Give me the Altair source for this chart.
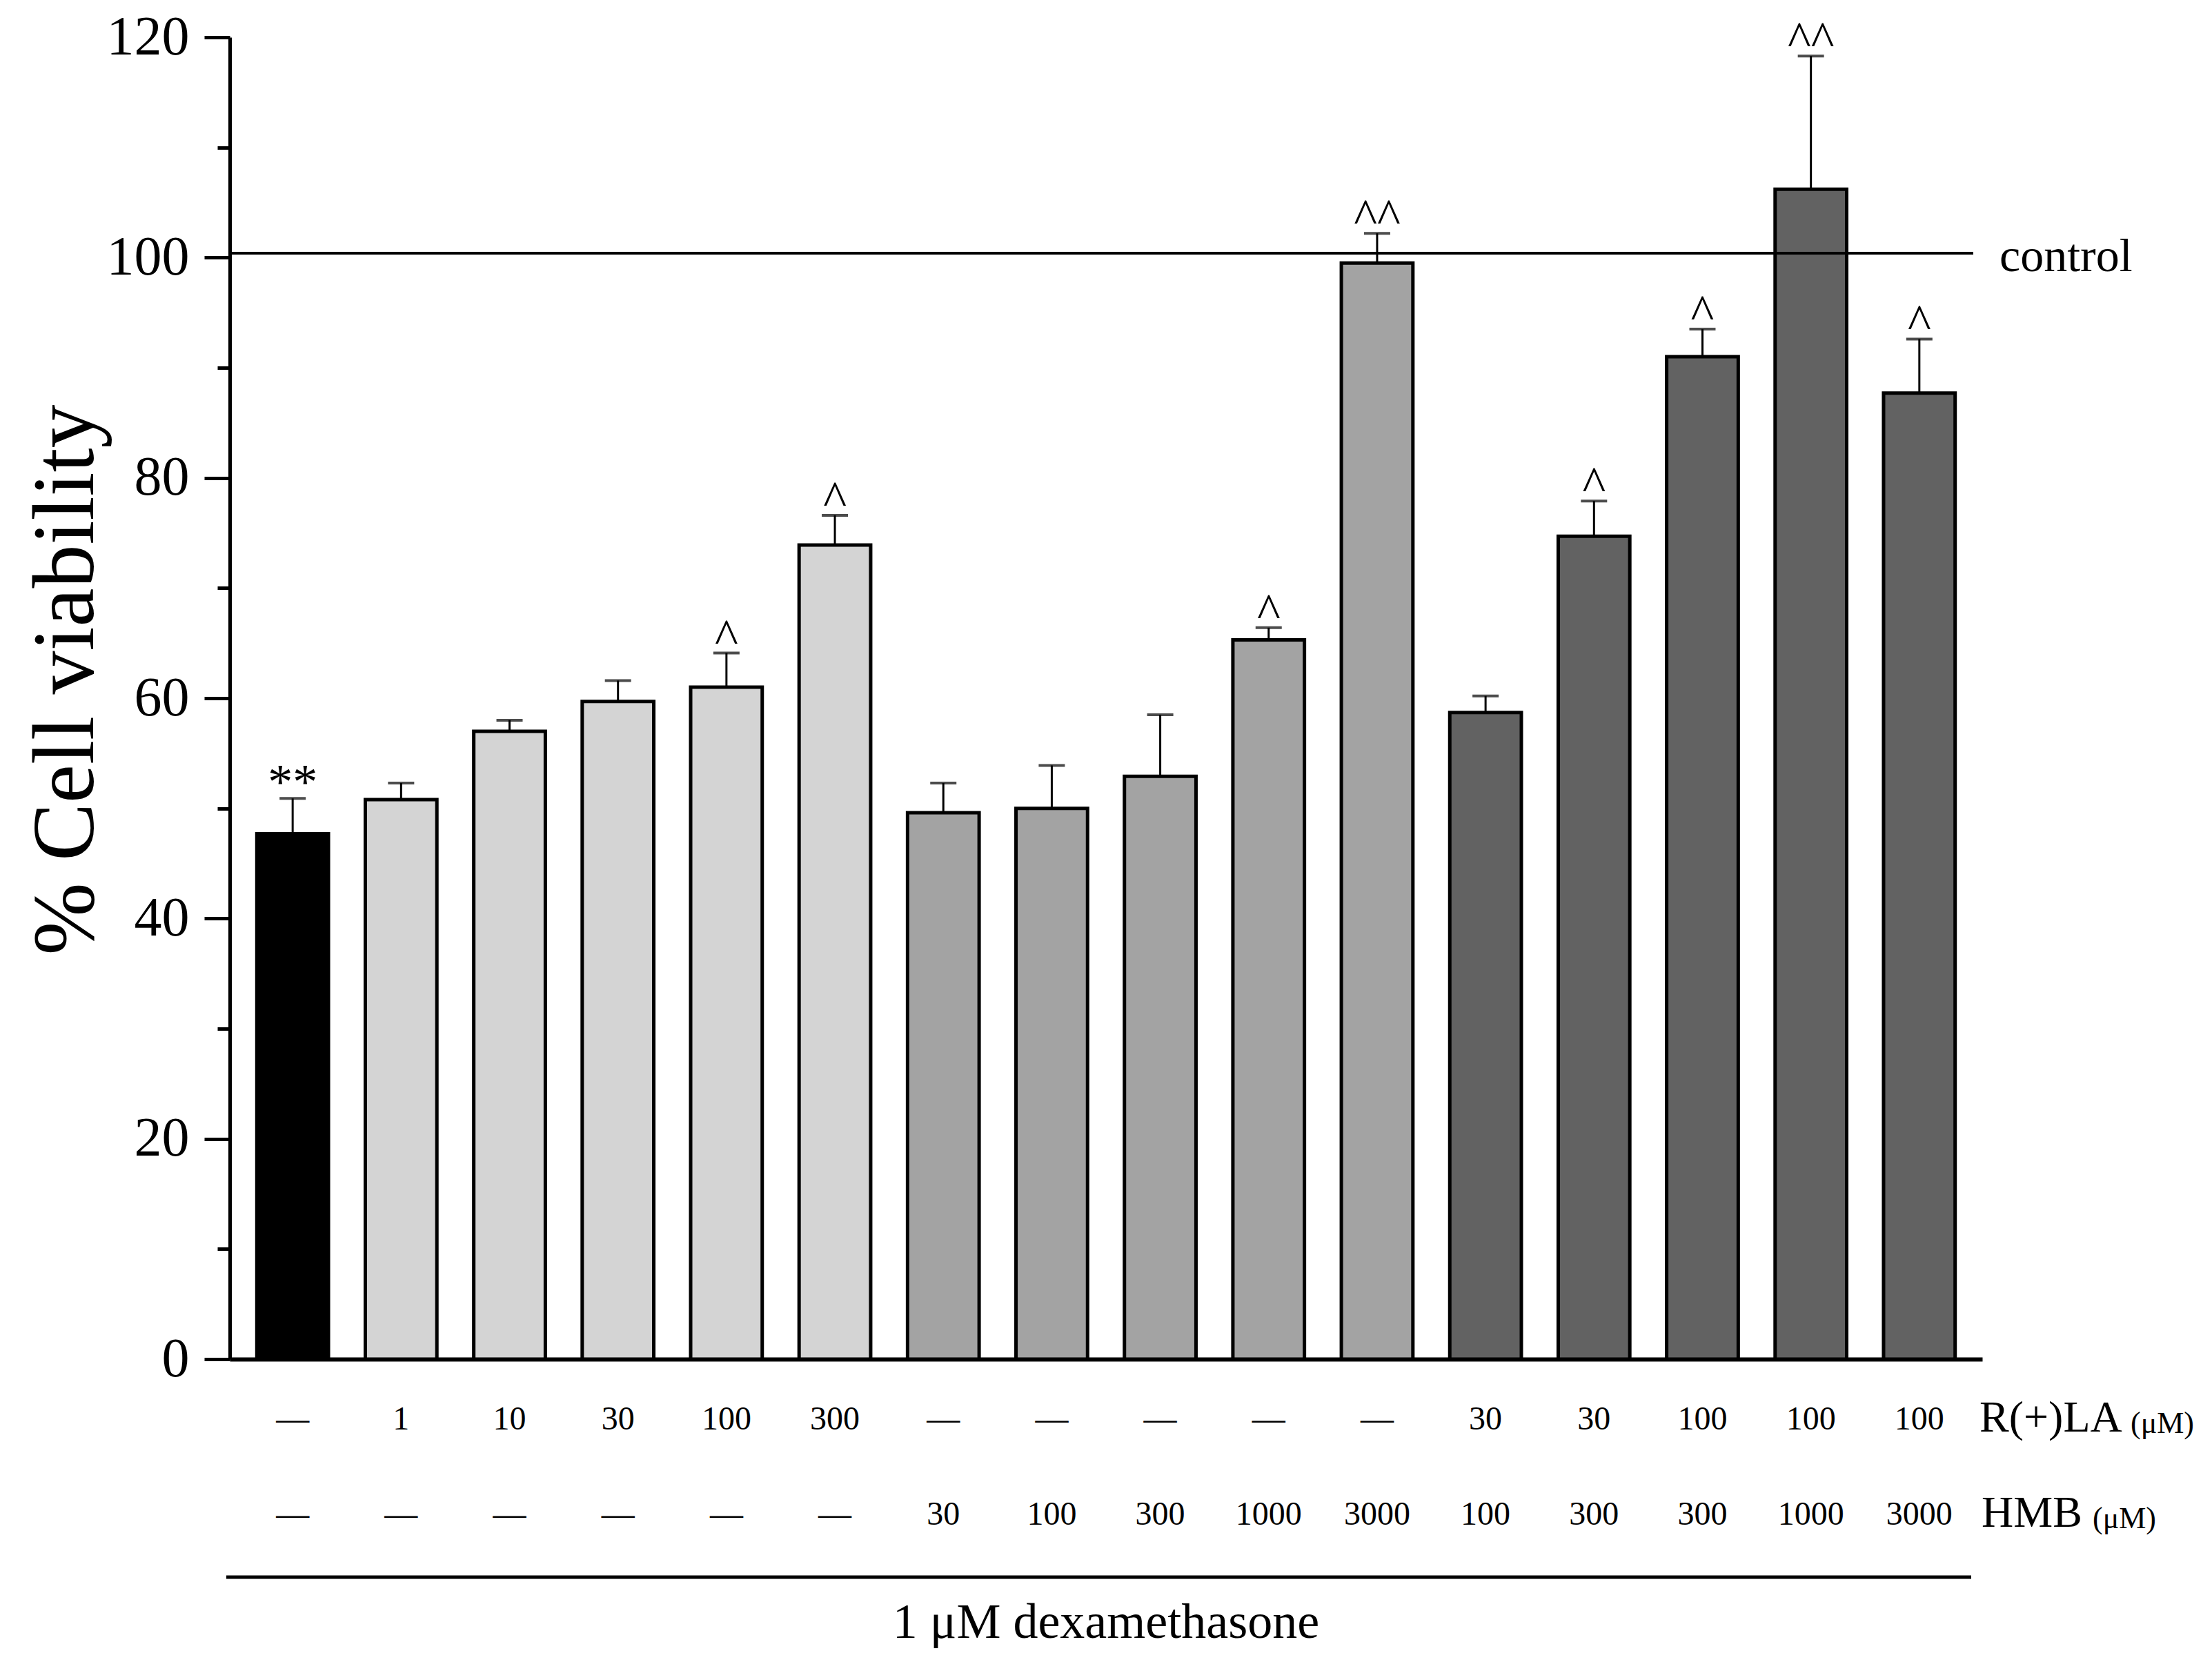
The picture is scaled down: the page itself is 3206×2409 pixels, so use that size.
import altair as alt
import pandas as pd

# ---- data ----
idx = [str(i) for i in range(16)]
group = ["dex"] + ["la"] * 5 + ["hmb"] * 5 + ["combo"] * 5
means = [47.7, 50.8, 57.0, 59.7, 61.0, 73.9, 49.6, 50.0, 52.9, 65.3, 99.5, 58.7, 74.7, 91.0, 106.2, 87.7]
uppers = [50.9, 52.3, 58.0, 61.6, 64.1, 76.6, 52.3, 53.9, 58.5, 66.4, 102.2, 60.2, 77.9, 93.5, 118.3, 92.6]
sig = ["**", "", "", "", "^", "^", "", "", "", "^", "^^", "", "^", "^", "^^", "^"]
la_labels = ["—", "1", "10", "30", "100", "300", "—", "—", "—", "—", "—", "30", "30", "100", "100", "100"]
hmb_labels = ["—", "—", "—", "—", "—", "—", "30", "100", "300", "1000", "3000", "100", "300", "300", "1000", "3000"]
group_names = ["dex", "la", "hmb", "combo"]
group_colors = ["#000000", "#d4d4d4", "#a3a3a3", "#626262"]
y_ticks = [0, 10, 20, 30, 40, 50, 60, 70, 80, 90, 100, 110, 120]
control_value = 100.4
control_label = "control"
row_names = ["R(+)LA", "HMB"]
unit_label = "(μM)"
footer = "1 μM dexamethasone"
y_title = "% Cell viability"

df = pd.DataFrame({
    "idx": idx, "group": group, "mean": means, "upper": uppers,
    "sig": sig, "la": la_labels, "hmb": hmb_labels,
})

FONT = "Liberation Serif"
W, H = 2540, 1916

xenc = alt.X("idx:N", sort=idx, axis=alt.Axis(
    title=None, labels=False, ticks=False, grid=False, domainWidth=6, domainColor="black"),
    scale=alt.Scale(paddingInner=0.34, paddingOuter=0.25))

base = alt.Chart(df)

bars = base.mark_bar(stroke="black", strokeWidth=5).encode(
    x=xenc,
    y=alt.Y("mean:Q", scale=alt.Scale(domain=[0, 120], nice=False, zero=True),
            axis=alt.Axis(
                values=y_ticks, title=y_title, grid=False,
                labelExpr="datum.value % 20 === 0 ? datum.label : ''",
                tickSize={"condition": {"test": "datum.value % 20 === 0", "value": 37}, "value": 18},
                tickWidth=5, tickColor="black", domainWidth=5, domainColor="black",
                labelFont=FONT, labelFontSize=80, labelColor="black", labelPadding=22,
                titleFont=FONT, titleFontSize=126, titleFontWeight="normal", titleColor="black",
                titleAngle=270, titleAlign="center", titleBaseline="middle",
                titleX=-237, titleY=931,
            )),
    color=alt.Color("group:N", scale=alt.Scale(domain=group_names, range=group_colors), legend=None),
)

err = base.mark_rule(strokeWidth=3, color="black").encode(
    x=alt.X("idx:N", sort=idx), y="mean:Q", y2="upper:Q")

caps = base.mark_tick(size=38, thickness=4, color="black").encode(
    x=alt.X("idx:N", sort=idx), y="upper:Q")

stars = base.mark_text(font=FONT, fontSize=72, baseline="alphabetic", dy=0, color="black").encode(
    x=alt.X("idx:N", sort=idx), y="upper:Q", text="sig:N")

ctrl_df = pd.DataFrame({"v": [control_value], "label": [control_label]})
ctrl = alt.Chart(ctrl_df).mark_rule(strokeWidth=4, color="black").encode(
    y="v:Q", x=alt.value(0), x2=alt.value(2527))
ctrl_text = alt.Chart(ctrl_df).mark_text(font=FONT, fontSize=68, align="left", baseline="middle",
                                         dy=6, color="black").encode(
    y="v:Q", x=alt.value(2565), text="label:N")

row1 = base.mark_text(font=FONT, fontSize=48, baseline="middle", color="black").encode(
    x=alt.X("idx:N", sort=idx), y=alt.value(2004), text="la:N")
row2 = base.mark_text(font=FONT, fontSize=48, baseline="middle", color="black").encode(
    x=alt.X("idx:N", sort=idx), y=alt.value(2142), text="hmb:N")

lab_la = pd.DataFrame({"name": [row_names[0]], "unit": [unit_label]})
lab_hmb = pd.DataFrame({"name": [row_names[1]], "unit": [unit_label]})


def row_label(d, y, xn, xu):
    n = alt.Chart(d).mark_text(font=FONT, fontSize=64, align="left", baseline="middle",
                               color="black").encode(
        x=alt.value(xn), y=alt.value(y), text="name:N")
    u = alt.Chart(d).mark_text(font=FONT, fontSize=44, align="left", baseline="middle",
                               dy=8, color="black").encode(
        x=alt.value(xu), y=alt.value(y), text="unit:N")
    return [n, u]


labels = row_label(lab_la, 2002, 2536, 2755) + row_label(lab_hmb, 2140, 2539, 2700)

foot_df = pd.DataFrame({"t": [footer]})
dex_line = alt.Chart(foot_df).mark_rule(strokeWidth=5, color="black").encode(
    x=alt.value(-5), x2=alt.value(2524), y=alt.value(2232))
dex_text = alt.Chart(foot_df).mark_text(font=FONT, fontSize=72, align="center", baseline="middle",
                                        color="black").encode(
    x=alt.value(1270), y=alt.value(2298), text="t:N")

chart = alt.layer(
    bars, err, caps, stars, ctrl, ctrl_text, row1, row2,
    *labels, dex_line, dex_text,
).properties(
    width=W, height=H,
    padding={"left": 325, "top": 46, "right": 320, "bottom": 420},
    autosize=alt.AutoSizeParams(type="none"),
).configure(
    background="white",
    view=alt.ViewConfig(stroke="transparent", strokeWidth=0),
).configure_axis(grid=False)

chart.save("out.html", embed_options={"renderer": "svg", "actions": False})
